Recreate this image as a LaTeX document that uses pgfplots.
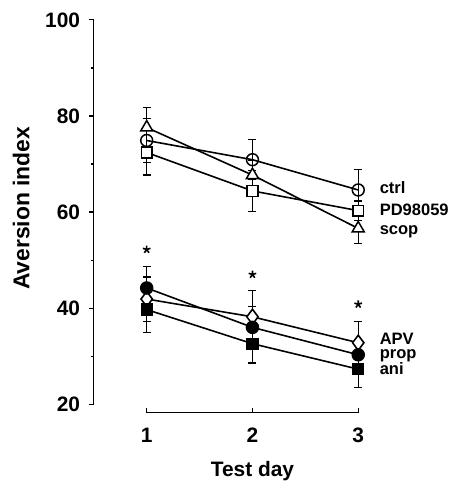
\documentclass[border=0pt]{standalone}
\usepackage{fontspec}
\setmainfont{Liberation Sans}
\usepackage{pgfplots}
\pgfplotsset{compat=1.18}
\begin{document}
\begin{tikzpicture}
\begin{axis}[
    scale only axis, width=138.2pt, height=197.5pt,
    xmin=0.5, xmax=3.1, ymin=18.2, ymax=100,
    axis x line*=bottom, axis y line*=left,
    axis line style={draw=none},
    xtick={1,2,3}, ytick={20,40,60,80,100}, minor ytick={30,50,70,90},
    xtick align=inside, ytick align=outside,
    major tick length=2.4pt, minor tick length=1.3pt,
    tick style={black, line width=0.6pt},
    /pgf/number format/assume math mode=true,
    ticklabel style={font=\bfseries\fontsize{10.5}{12}\selectfont},
    xticklabel style={yshift=-4pt},
    yticklabel style={xshift=-1pt},
    clip=false,
    error bars/error bar style={line width=0.6pt, black},
    error bars/error mark options={rotate=90, mark size=2pt, line width=0.6pt, black},
]
% error bars first, behind lines and markers
\addplot[draw=none, mark=none, error bars/.cd, y dir=both, y explicit]
  coordinates {(1,74.9) +- (0,4.5) (2,70.9) +- (0,4.2) (3,64.6) +- (0,4.2)};
\addplot[draw=none, mark=none, error bars/.cd, y dir=both, y explicit]
  coordinates {(1,72.4) +- (0,4.7) (2,64.4) +- (0,4.3) (3,60.3) +- (0,2.0)};
\addplot[draw=none, mark=none, error bars/.cd, y dir=both, y explicit]
  coordinates {(1,77.6) +- (0,4.2) (2,67.7) +- (0,3.0) (3,56.6) +- (0,3.2)};
\addplot[draw=none, mark=none, error bars/.cd, y dir=both, y explicit]
  coordinates {(1,41.9) +- (0,4.6) (2,38.2) +- (0,5.4) (3,32.8) +- (0,4.5)};
\addplot[draw=none, mark=none, error bars/.cd, y dir=both, y explicit]
  coordinates {(1,44.2) +- (0,4.5) (2,36.0) +- (0,4.4) (3,30.3) +- (0,3.0)};
\addplot[draw=none, mark=none, error bars/.cd, y dir=both, y explicit]
  coordinates {(1,39.7) +- (0,4.8) (2,32.6) +- (0,4.0) (3,27.3) +- (0,3.8)};
% series
\addplot[black, line width=0.8pt, mark=o, mark size=3pt, mark options={fill=white, line width=0.75pt}]
  coordinates {(1,74.9) (2,70.9) (3,64.6)};
\addplot[black, line width=0.8pt, mark=square*, mark size=2.7pt, mark options={fill=white, line width=0.75pt}]
  coordinates {(1,72.4) (2,64.4) (3,60.3)};
\addplot[black, line width=0.8pt, mark=triangle*, mark size=3.5pt, mark options={fill=white, line width=0.75pt}]
  coordinates {(1,77.6) (2,67.7) (3,56.6)};
\addplot[black, line width=0.8pt, mark=diamond*, mark size=3.8pt, mark options={fill=white, line width=0.8pt}]
  coordinates {(1,41.9) (2,38.2) (3,32.8)};
\addplot[black, line width=0.8pt, mark=*, mark size=3pt, mark options={fill=black}]
  coordinates {(1,44.2) (2,36.0) (3,30.3)};
\addplot[black, line width=0.8pt, mark=square*, mark size=2.7pt, mark options={fill=black}]
  coordinates {(1,39.7) (2,32.6) (3,27.3)};
% significance stars
\addplot[only marks, mark=star, mark size=2pt, mark options={line width=0.8pt}]
  coordinates {(1,52.2) (2,47.0) (3,40.8)};
% axis lines: y axis from 20 to 100, detached x axis from day 1 to day 3
\draw[line width=0.6pt] (axis cs:0.5,20) -- (axis cs:0.5,100);
\draw[line width=0.6pt] (axis cs:1,18.2) -- (axis cs:3,18.2);
% series labels
\begin{scope}[font=\bfseries\fontsize{8.3}{10}\selectfont, inner sep=0pt]
\node[anchor=base west] at (axis cs:3.2,63.9) {ctrl};
\node[anchor=base west] at (axis cs:3.2,59.2) {PD98059};
\node[anchor=base west] at (axis cs:3.2,55.4) {scop};
\node[anchor=base west] at (axis cs:3.2,32.5) {APV};
\node[anchor=base west] at (axis cs:3.2,29.5) {prop};
\node[anchor=base west] at (axis cs:3.2,26.1) {ani};
\end{scope}
% axis titles
\node[font=\bfseries\fontsize{11.5}{13}\selectfont, rotate=90] at ([xshift=-36.5pt]axis cs:0.5,60.8) {Aversion index};
\node[font=\bfseries\fontsize{10.5}{12}\selectfont] at ([yshift=-29pt]axis cs:2,18.2) {Test day};
% page frame matching the reference
\coordinate (bbll) at (axis cs:-0.387,3.4);
\coordinate (bbur) at (axis cs:3.858,104.14);
\end{axis}
\pgfresetboundingbox
\path[use as bounding box] (bbll) rectangle (bbur);
\end{tikzpicture}
\end{document}
